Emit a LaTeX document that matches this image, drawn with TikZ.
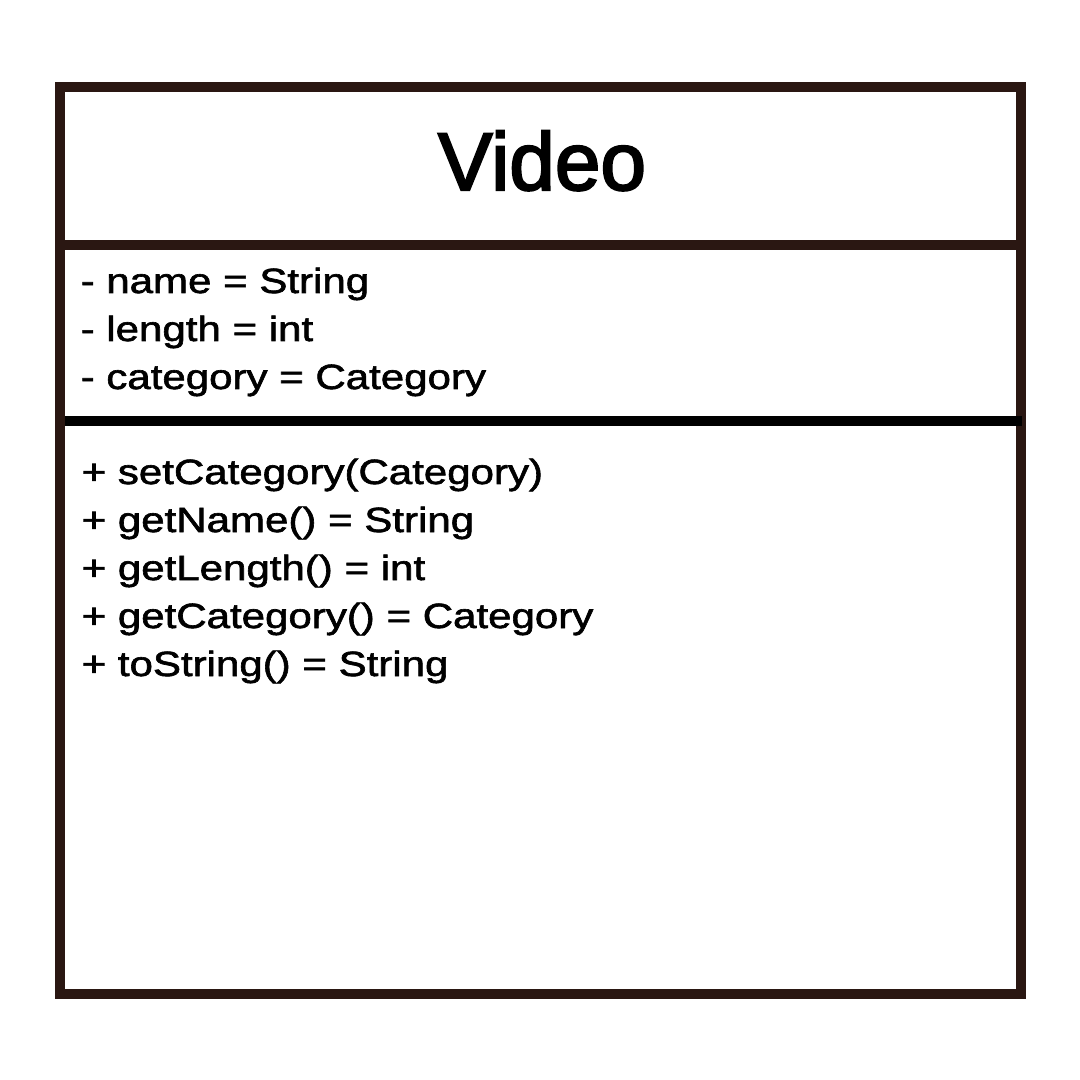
\documentclass[tikz,border=0pt]{standalone}
\usepackage{fontspec}
\setmainfont{Liberation Sans}
\newfontfamily\titlefont[FakeBold=2.6]{Liberation Sans}
\newfontfamily\classfont[FakeStretch=1.2, FakeBold=1.8]{Liberation Sans}
\usetikzlibrary{positioning}

\definecolor{framebrown}{RGB}{42,23,18}

\tikzset{
    frame/.style={draw=framebrown, line width=0.1cm},
    divider/.style={line width=0.1cm},
    title/.style={font=\titlefont\fontsize{23.3}{28}\selectfont, inner sep=0pt, anchor=base},
    member/.style={font=\classfont\fontsize{9.96}{12}\selectfont, inner sep=0pt, anchor=base west}
}

\begin{document}
\begin{tikzpicture}[x=0.01cm, y=-0.01cm] % 1 unit = 1 pixel
    \useasboundingbox (0,0) rectangle (1080,1080);
    % outer box and separators
    \draw[frame] (60,87) rectangle (1021,994);
    \draw[divider, framebrown] (65,245) -- (1016,245);
    \draw[divider, black] (65,421) -- (1022,421);
    % class name
    \node[title] (classname) at (542,190) {Video};
    % attributes
    \foreach \txt [count=\i] in {- name = String, - length = int, - category = Category} {
        \node[member] (attr\i) at (80,{293+48*(\i-1)}) {\txt};
    }
    % operations
    \foreach \txt [count=\i] in {+ setCategory(Category), + getName() = String,
        + getLength() = int, + getCategory() = Category, + toString() = String} {
        \node[member] (op\i) at (81,{484+48*(\i-1)}) {\txt};
    }
\end{tikzpicture}
\end{document}
